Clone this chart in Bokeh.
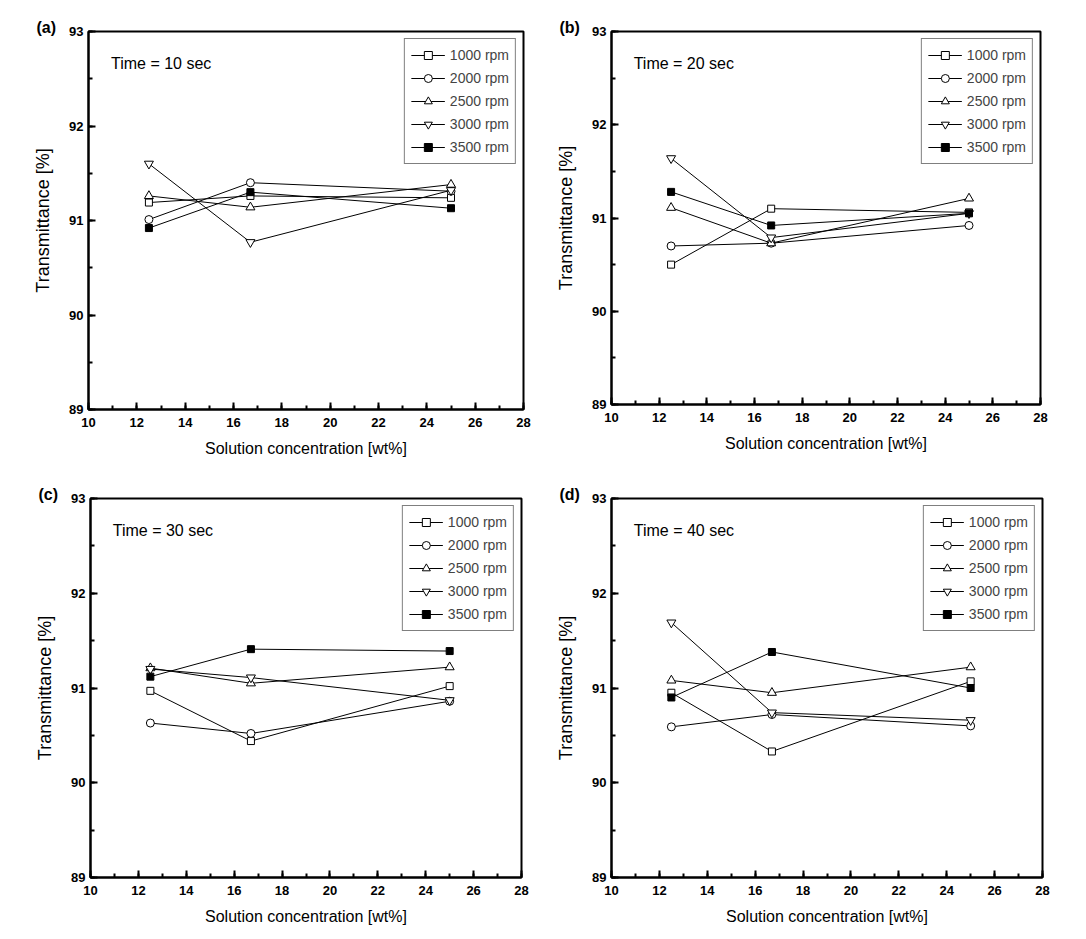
from bokeh.plotting import figure
from bokeh.layouts import column, row
from bokeh.models import Range1d, SingleIntervalTicker, Label, Title
from bokeh.embed import file_html
from bokeh.resources import INLINE

# ---------------- data ----------------
conc = [12.5, 16.7, 25.0]
series_labels = ["1000 rpm", "2000 rpm", "2500 rpm", "3000 rpm", "3500 rpm"]
panel_tags = ["(a)", "(b)", "(c)", "(d)"]
time_texts = ["Time = 10 sec", "Time = 20 sec", "Time = 30 sec", "Time = 40 sec"]
x_label = "Solution concentration [wt%]"
y_label = "Transmittance [%]"

# Time = 10 sec
a_1000 = [91.19, 91.26, 91.24]
a_2000 = [91.01, 91.40, 91.31]
a_2500 = [91.26, 91.14, 91.38]
a_3000 = [91.60, 90.77, 91.32]
a_3500 = [90.92, 91.30, 91.13]
# Time = 20 sec
b_1000 = [90.50, 91.10, 91.06]
b_2000 = [90.70, 90.73, 90.92]
b_2500 = [91.11, 90.73, 91.21]
b_3000 = [91.64, 90.79, 91.05]
b_3500 = [91.28, 90.92, 91.05]
# Time = 30 sec
c_1000 = [90.97, 90.44, 91.02]
c_2000 = [90.63, 90.52, 90.86]
c_2500 = [91.21, 91.05, 91.22]
c_3000 = [91.20, 91.11, 90.87]
c_3500 = [91.12, 91.41, 91.39]
# Time = 40 sec
d_1000 = [90.95, 90.33, 91.07]
d_2000 = [90.59, 90.72, 90.60]
d_2500 = [91.08, 90.95, 91.22]
d_3000 = [91.69, 90.74, 90.66]
d_3500 = [90.90, 91.38, 91.00]

panels_data = [
    [a_1000, a_2000, a_2500, a_3000, a_3500],
    [b_1000, b_2000, b_2500, b_3000, b_3500],
    [c_1000, c_2000, c_2500, c_3000, c_3500],
    [d_1000, d_2000, d_2500, d_3000, d_3500],
]

# ---------------- styles ----------------
FONT = "Liberation Sans"
markers = ["square", "circle", "triangle", "inverted_triangle", "square"]
fills = ["white", "white", "white", "white", "black"]
msizes = [7, 8, 9, 9, 7]

# (min_border_left, top, right, bottom, frame_w, frame_h)
geoms = [
    (88, 29, 11, 54, 435, 378),
    (77, 31, 20, 57, 429, 373),
    (90, 37, 12, 52, 431, 379),
    (78, 35, 20, 54, 431, 379),
]


def make_panel(i):
    ml, mt, mr, mb, fw, fh = geoms[i]
    p = figure(frame_width=fw, frame_height=fh,
               min_border_left=ml, min_border_top=mt,
               min_border_right=mr, min_border_bottom=mb,
               x_range=Range1d(10, 28), y_range=Range1d(89, 93),
               output_backend="svg", toolbar_location=None,
               background_fill_color="white", border_fill_color="white")
    p.grid.visible = False
    p.outline_line_color = "black"
    p.outline_line_width = 2

    p.add_layout(Title(text=panel_tags[i], align="left", offset=-52,
                       standoff=-9, text_font=FONT, text_font_size="16px",
                       text_font_style="bold", text_color="black"), "above")

    p.xaxis.ticker = SingleIntervalTicker(interval=2, num_minor_ticks=2)
    p.yaxis.ticker = SingleIntervalTicker(interval=1, num_minor_ticks=2)
    for ax in (p.xaxis[0], p.yaxis[0]):
        ax.axis_line_width = 2
        ax.axis_line_color = "black"
        ax.major_tick_in = 7
        ax.major_tick_out = 0
        ax.minor_tick_in = 4
        ax.minor_tick_out = 0
        ax.major_tick_line_width = 2
        ax.minor_tick_line_width = 2
        ax.major_tick_line_color = "black"
        ax.minor_tick_line_color = "black"
        ax.major_label_text_font = FONT
        ax.major_label_text_font_style = "bold"
        ax.major_label_text_font_size = "13px"
        ax.major_label_text_color = "black"
        ax.axis_label_text_font = FONT
        ax.axis_label_text_font_style = "normal"
        ax.axis_label_text_color = "black"
    p.xaxis.major_label_standoff = 8
    p.yaxis.major_label_standoff = 5
    p.xaxis.axis_label = x_label
    p.yaxis.axis_label = y_label
    p.xaxis.axis_label_text_font_size = "16px"
    p.yaxis.axis_label_text_font_size = "18px"
    p.xaxis.axis_label_standoff = 10
    p.yaxis.axis_label_standoff = 13

    for k, ys in enumerate(panels_data[i]):
        lab = series_labels[k]
        p.line(conc, ys, line_color="black", line_width=1, legend_label=lab)
        p.scatter(conc, ys, marker=markers[k], size=msizes[k],
                  fill_color=fills[k], line_color="black", line_width=1,
                  legend_label=lab)

    lg = p.legend[0]
    lg.location = "top_right"
    lg.margin = 7
    lg.padding = 6
    lg.spacing = 3
    lg.glyph_height = 20
    lg.glyph_width = 34
    lg.label_height = 20
    lg.label_standoff = 5
    lg.label_text_font = FONT
    lg.label_text_font_size = "14px"
    lg.border_line_color = "black"
    lg.border_line_width = 1
    lg.background_fill_color = "white"
    lg.background_fill_alpha = 1.0

    p.add_layout(Label(x=10.93, y=92.66, text=time_texts[i],
                       text_font=FONT, text_font_size="16px",
                       text_baseline="middle", text_align="left",
                       text_color="black"))
    return p


figs = [make_panel(i) for i in range(4)]
layout = column(row(figs[0], figs[1]), row(figs[2], figs[3]))

open("out.html", "w").write(file_html(layout, INLINE))
